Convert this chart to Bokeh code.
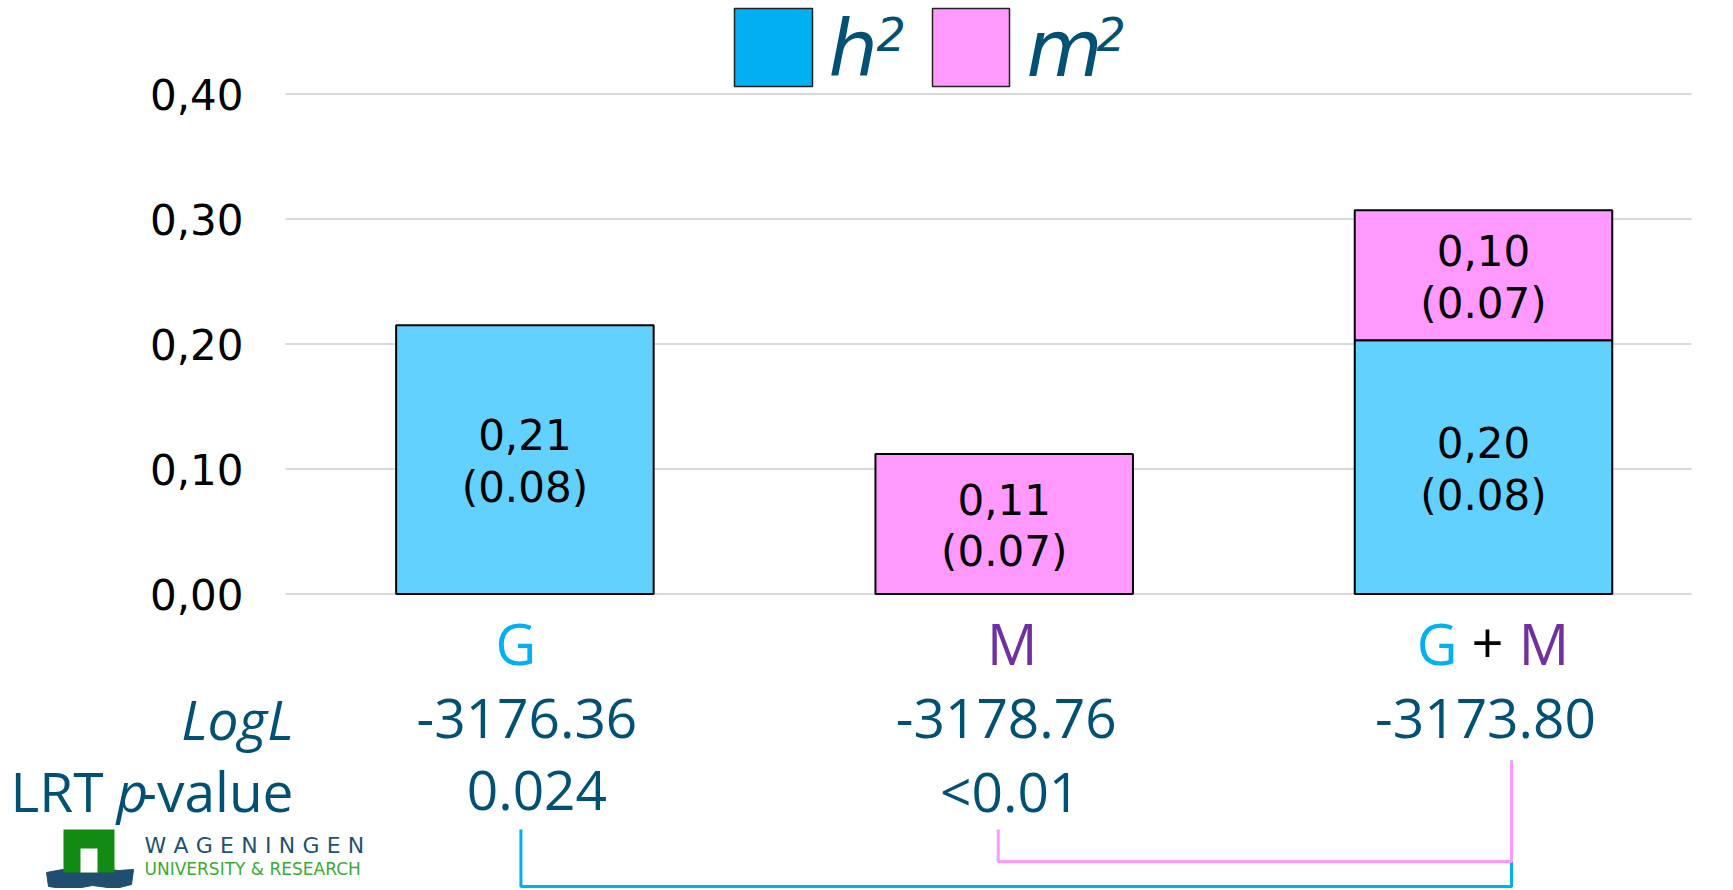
from bokeh.plotting import figure
from bokeh.models import ColumnDataSource, Range1d, LinearAxis, FixedTicker
from bokeh.core.properties import value
from bokeh.embed import file_html
from bokeh.resources import INLINE

# ---------------- data ----------------
models = ["G", "M", "G + M"]
h2_values = [0.215, 0.0, 0.203]
m2_values = [0.0, 0.112, 0.104]
h2_estimates = ["0,21", "", "0,20"]
h2_se = ["(0.08)", "", "(0.08)"]
m2_estimates = ["", "0,11", "0,10"]
m2_se = ["", "(0.07)", "(0.07)"]
logL_values = ["-3176.36", "-3178.76", "-3173.80"]
lrt_p_values = ["0.024", "<0.01", ""]
lrt_comparisons = [(0, 2), (1, 2)]
y_ticks = [0.0, 0.1, 0.2, 0.3, 0.4]
y_tick_labels = ["0,00", "0,10", "0,20", "0,30", "0,40"]
legend_symbols = ["h", "m"]

# ---------------- layout (page pixels) ----------------
W, H = 1725, 888
MARGIN = 0
CAT0_PX, CAT_STEP_PX = 524.4, 479.3
ZERO_PX, UNIT_PX = 593.5, 1250.0


def xd(px):
    return (px - CAT0_PX) / CAT_STEP_PX


def yd(py):
    return (ZERO_PX - py) / UNIT_PX


def xo(px):
    return px / CAT_STEP_PX


H2_BAR = "#62D1FE"
H2_KEY = "#00B0F0"
M2_COLOR = "#FF99FF"
TEAL = "#005174"
G_COLOR = "#00B0F0"
M_COLOR = "#7030A0"
GRID = "#D9D9D9"
VERDANA = value("DejaVu Sans")
SANS = value("Open Sans")

p = figure(width=W, height=H,
           x_range=Range1d(xd(MARGIN), xd(MARGIN + W)),
           y_range=Range1d(yd(MARGIN + H), yd(MARGIN)),
           output_backend="svg", toolbar_location=None,
           x_axis_location=None, y_axis_location=None,
           min_border=0, outline_line_color=None,
           background_fill_color="white", border_fill_color="white")
p.grid.visible = False

plot_left, plot_right = xd(285), xd(1691)

# gridlines
p.segment(x0=plot_left, x1=plot_right, y0=y_ticks, y1=y_ticks,
          line_color=GRID, line_width=2)

# y axis
yaxis = LinearAxis(fixed_location=plot_left,
                   ticker=FixedTicker(ticks=y_ticks),
                   major_label_overrides={t: l for t, l in zip(y_ticks, y_tick_labels)},
                   axis_line_color=None, major_tick_line_color=None,
                   minor_tick_line_color=None, major_tick_out=0, major_tick_in=0,
                   major_label_standoff=42,
                   major_label_text_font="DejaVu Sans",
                   major_label_text_font_size="42px",
                   major_label_text_color="black")
p.add_layout(yaxis, "left")

# bars
idx = list(range(len(models)))
BAR_W = 257.5 / CAT_STEP_PX

h2_i = [i for i in idx if h2_values[i] > 0]
h2_src = ColumnDataSource(dict(
    x=h2_i,
    bottom=[0.0 for i in h2_i],
    top=[h2_values[i] for i in h2_i],
    mid=[h2_values[i] / 2 for i in h2_i],
    label=[h2_estimates[i] + "\n" + h2_se[i] for i in h2_i],
))
m2_i = [i for i in idx if m2_values[i] > 0]
m2_src = ColumnDataSource(dict(
    x=m2_i,
    bottom=[h2_values[i] for i in m2_i],
    top=[h2_values[i] + m2_values[i] for i in m2_i],
    mid=[h2_values[i] + m2_values[i] / 2 for i in m2_i],
    label=[m2_estimates[i] + "\n" + m2_se[i] for i in m2_i],
))
for src, col in ((h2_src, H2_BAR), (m2_src, M2_COLOR)):
    p.vbar(x="x", bottom="bottom", top="top", width=BAR_W, source=src,
           fill_color=col, line_color="black", line_width=2)
    p.text(x="x", y="mid", text="label", source=src, text_font=VERDANA,
           text_font_size="42px", text_align="center", text_baseline="middle",
           text_line_height=1.06, y_offset=2, text_color="black")

# category labels
part_colors = {"G": G_COLOR, "M": M_COLOR, "+": "black"}
single_offsets = [-9, 8, 0]
multi_offsets = [-46.5, 4, 60.5]
cx, ct, cc, co = [], [], [], []
for i, m in enumerate(models):
    parts = m.split(" ")
    offs = [single_offsets[i]] if len(parts) == 1 else multi_offsets
    for part, off in zip(parts, offs):
        cx.append(i)
        ct.append(part)
        cc.append(part_colors[part])
        co.append(off)
p.text(x="x", y=yd(642), text="t", text_color="c", x_offset="o",
       source=ColumnDataSource(dict(x=cx, t=ct, c=cc, o=co)),
       text_font=SANS, text_font_size="56px", text_align="center",
       text_baseline="middle")

# LogL row
p.text(x=idx, y=yd(718), text=logL_values, text_font=SANS, text_font_size="55px",
       text_align="center", text_baseline="middle", text_color=TEAL, x_offset=2)
p.text(x=[xd(293)], y=[yd(718)], text=["LogL"], text_font=SANS,
       text_font_size="55px", text_font_style="italic", text_align="right",
       text_baseline="middle", text_color=TEAL)

# LRT p-value row
pv_i = [i for i in idx if lrt_p_values[i]]
p.text(x=pv_i, y=yd(790), text=[lrt_p_values[i] for i in pv_i], x_offset=[12, 6],
       text_font=SANS, text_font_size="55px", text_align="center",
       text_baseline="middle", text_color=TEAL)
p.text(x=[xd(10)], y=[yd(790)], text=["LRT"], text_font=SANS, text_font_size="55px",
       text_align="left", text_baseline="middle", text_color=TEAL)
p.text(x=[xd(132)], y=[yd(790)], text=["p"], text_font=SANS, text_font_size="55px",
       text_font_style="italic", text_align="center", text_baseline="middle",
       text_color=TEAL)
p.text(x=[xd(293)], y=[yd(790)], text=["-value"], text_font=SANS, text_font_size="55px",
       text_align="right", text_baseline="middle", text_color=TEAL)

# LRT brackets
bracket_styles = [(H2_KEY, -4, 886), (M2_COLOR, -6, 861)]
for (a, b), (col, loff, ybot) in zip(lrt_comparisons, bracket_styles):
    p.line(x=[a + xo(loff), a + xo(loff), b + xo(28), b + xo(28)],
           y=[yd(829), yd(ybot), yd(ybot), yd(760)],
           line_color=col, line_width=3)

# legend
p.quad(left=[xd(734), xd(932)], right=[xd(812), xd(1009)],
       top=[yd(8), yd(8)], bottom=[yd(86), yd(86)],
       fill_color=[H2_KEY, M2_COLOR], line_color="#222222", line_width=1.5)
p.text(x=[xd(828), xd(1026)], y=[yd(48), yd(48)], text=legend_symbols,
       text_font=VERDANA, text_font_size="78px", text_font_style="italic",
       text_align="left", text_baseline="middle", text_color=TEAL)
p.text(x=[xd(876), xd(1096)], y=[yd(33), yd(33)], text=["2", "2"],
       text_font=VERDANA, text_font_size="46px", text_font_style="italic",
       text_align="left", text_baseline="middle", text_color=TEAL)

# logo (Wageningen University & Research)
p.patch(x=[xd(v) for v in (46, 62, 80, 100, 118, 133, 131, 115, 92, 70, 48)],
        y=[yd(v) for v in (872, 869, 871, 868, 870, 869, 884, 888, 885, 889, 886)],
        fill_color="#1F4E6E", line_color="#1F4E6E")
p.quad(left=[xd(63)], right=[xd(114)], top=[yd(829)], bottom=[yd(872)],
       fill_color="#138A13", line_color=None)
p.quad(left=[xd(80)], right=[xd(97)], top=[yd(848)], bottom=[yd(872)],
       fill_color="white", line_color=None)
p.text(x=[xd(144)], y=[yd(845)], text=["\u2004".join("WAGENINGEN")],
       text_font=VERDANA, text_font_size="22px", text_align="left",
       text_baseline="middle", text_color="#1E5370")
p.text(x=[xd(144)], y=[yd(868)], text=["UNIVERSITY & RESEARCH"],
       text_font=VERDANA, text_font_size="17px", text_align="left",
       text_baseline="middle", text_color="#3BAA34")

open("out.html", "w").write(file_html(p, INLINE))
